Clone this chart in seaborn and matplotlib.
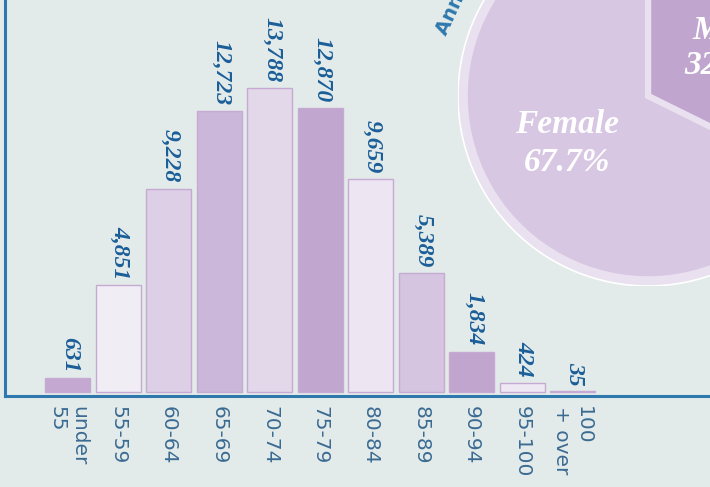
import matplotlib
matplotlib.use("Agg")
import matplotlib.pyplot as plt
from matplotlib.patches import Circle
import seaborn as sns
import pandas as pd

# ---- data ----
age_groups = ["under\n55", "55-59", "60-64", "65-69", "70-74", "75-79",
              "80-84", "85-89", "90-94", "95-100", "100\n+ over"]
counts = [631, 4851, 9228, 12723, 13788, 12870, 9659, 5389, 1834, 424, 35]
bar_colors = ["#c4a8d1", "#f1edf5", "#ddcfe6", "#cab7da", "#e3d7ea", "#c1a6cf",
              "#ede5f2", "#d5c5e0", "#c1a5cf", "#eee8f3", "#d3c3df"]
gender_labels = ["Male", "Female"]
gender_share = [32.3, 67.7]
gender_colors = ["#c0a5cf", "#d7c7e2"]
title_text = "Annuitants by Gender"

BG = "#e2ebe9"
BLUE = "#2f78ad"
NUM = "#1b5e98"
TICK = "#3b6a92"

sns.set_theme(style="white")
W, H = 710, 487
fig = plt.figure(figsize=(W / 100, H / 100), dpi=100, facecolor=BG)

# ---- bar chart ----
ax = fig.add_axes([5 / W, (H - 396) / H, 705 / W, 396 / H])
ax.set_facecolor(BG)
df = pd.DataFrame({"age": age_groups, "count": counts})
sns.barplot(data=df, x="age", y="count", hue="age", palette=bar_colors,
            legend=False, width=0.89, edgecolor="#c6aad4", linewidth=1.0,
            saturation=1, ax=ax)
ax.set_xlim(-1.238, 12.72)
ax.set_ylim(-181, 17779)
for i, v in enumerate(counts):
    ax.text(i + 0.04, v + 270, f"{v:,}", rotation=-90, ha="center", va="bottom",
            family="Liberation Serif", fontweight="bold", fontstyle="italic",
            fontsize=17, color=NUM)
ax.set_xlabel("")
ax.set_ylabel("")
ax.set_yticks([])
ax.set_xticks(range(len(age_groups)))
ax.set_xticklabels(age_groups, rotation=-90, ha="center", va="top",
                   multialignment="left", fontsize=14.5, color=TICK,
                   family="DejaVu Sans")
ax.tick_params(axis="x", length=0, pad=7)
for s in ["top", "right"]:
    ax.spines[s].set_visible(False)
for s in ["left", "bottom"]:
    ax.spines[s].set_color(BLUE)
    ax.spines[s].set_linewidth(2.2)

# ---- pie ----
R = 190
cx, cy = 648, 96
pax = fig.add_axes([(cx - R) / W, (H - cy - R) / H, 2 * R / W, 2 * R / H])
pax.set_aspect("equal")
pax.axis("off")
pax.patch.set_visible(False)
pax.pie(gender_share, colors=gender_colors, startangle=90, counterclock=False,
        radius=0.965, wedgeprops=dict(edgecolor="#e9e1ef", linewidth=4.5))
pax.add_patch(Circle((0, 0), 0.985, fill=False, edgecolor="#e9e1ef", lw=3))
pax.add_patch(Circle((0, 0), 1.0, fill=False, edgecolor="white", lw=1.2))
pax.set_xlim(-1, 1)
pax.set_ylim(-1, 1)
lab = dict(ha="center", va="center", family="Liberation Serif",
           fontweight="bold", fontstyle="italic", color="white")
pax.text(-0.426, -0.150, gender_labels[1], fontsize=24, **lab)
pax.text(-0.426, -0.350, f"{gender_share[1]}%", fontsize=24, **lab)
pax.text(0.42, 0.347, gender_labels[0], fontsize=24, **lab)
pax.text(0.42, 0.163, f"{gender_share[0]}%", fontsize=24, **lab)

# ---- partially visible title ----
fig.text(446 / W, 1 - 36 / H, title_text, rotation=65, ha="left",
         va="baseline", rotation_mode="anchor", fontsize=14,
         fontweight="heavy", color=BLUE, family="DejaVu Sans")

fig.savefig("out.png", dpi=100, facecolor=BG)
